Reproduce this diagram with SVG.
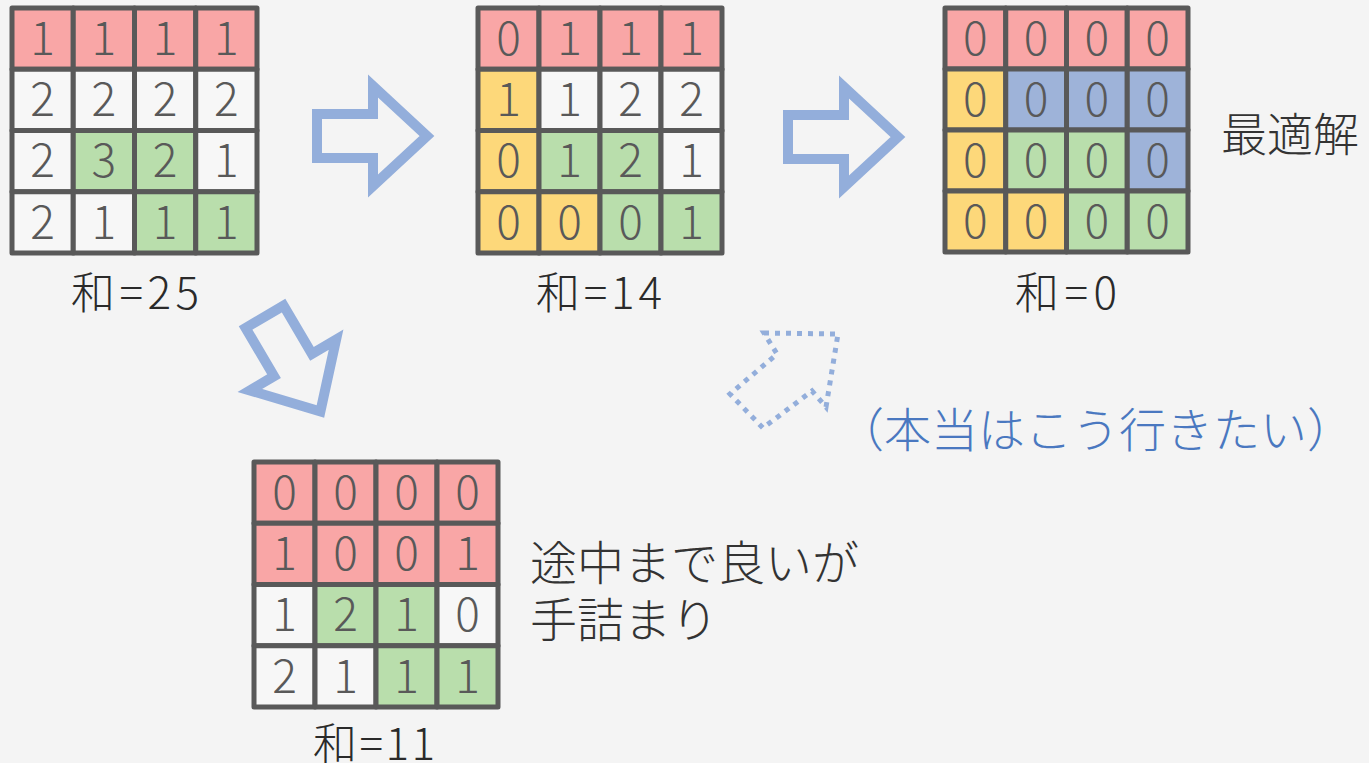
<svg xmlns="http://www.w3.org/2000/svg" width="1369" height="763" viewBox="0 0 1369 763">
<defs>
<style>
.c{stroke:#595959;stroke-width:5;stroke-linejoin:round}
.r{fill:#F9A6A6}.w{fill:#F7F7F7}.g{fill:#B9DEAC}.y{fill:#FDD87A}.b{fill:#9EB3D9}
.d{font-family:"Noto Sans CJK JP","Open Sans",sans-serif;font-weight:300;font-size:46px;fill:#595959;text-anchor:middle}
.lbl{font-family:"Noto Sans CJK JP","Noto Sans",sans-serif;font-weight:300;font-size:44px;fill:#2A2A2A;text-anchor:middle}
.jp{font-family:"Noto Sans CJK JP",sans-serif;font-weight:300;font-size:46px;fill:#333333}
.arr{fill:none;stroke:#93AEDB;stroke-width:10;stroke-linejoin:miter}
.dot{fill:none;stroke:#93AEDB;stroke-width:5;stroke-dasharray:5 6}
</style>
<path id="ar" d="M-56,-22 H0 V-50 L54,0 L0,50 V22 H-56 Z"/>
</defs>
<rect width="1369" height="763" fill="#F4F4F4"/>

<g id="grid1">
<rect class="c r" x="12" y="8" width="61.25" height="61.25"/><rect class="c r" x="73.25" y="8" width="61.25" height="61.25"/><rect class="c r" x="134.5" y="8" width="61.25" height="61.25"/><rect class="c r" x="195.75" y="8" width="61.25" height="61.25"/>
<rect class="c w" x="12" y="69.25" width="61.25" height="61.25"/><rect class="c w" x="73.25" y="69.25" width="61.25" height="61.25"/><rect class="c w" x="134.5" y="69.25" width="61.25" height="61.25"/><rect class="c w" x="195.75" y="69.25" width="61.25" height="61.25"/>
<rect class="c w" x="12" y="130.5" width="61.25" height="61.25"/><rect class="c g" x="73.25" y="130.5" width="61.25" height="61.25"/><rect class="c g" x="134.5" y="130.5" width="61.25" height="61.25"/><rect class="c w" x="195.75" y="130.5" width="61.25" height="61.25"/>
<rect class="c w" x="12" y="191.75" width="61.25" height="61.25"/><rect class="c w" x="73.25" y="191.75" width="61.25" height="61.25"/><rect class="c g" x="134.5" y="191.75" width="61.25" height="61.25"/><rect class="c g" x="195.75" y="191.75" width="61.25" height="61.25"/>
<text class="d" x="42.6" y="55">1</text><text class="d" x="103.9" y="55">1</text><text class="d" x="165.1" y="55">1</text><text class="d" x="226.4" y="55">1</text>
<text class="d" x="42.6" y="116">2</text><text class="d" x="103.9" y="116">2</text><text class="d" x="165.1" y="116">2</text><text class="d" x="226.4" y="116">2</text>
<text class="d" x="42.6" y="177">2</text><text class="d" x="103.9" y="177">3</text><text class="d" x="165.1" y="177">2</text><text class="d" x="226.4" y="177">1</text>
<text class="d" x="42.6" y="239">2</text><text class="d" x="103.9" y="239">1</text><text class="d" x="165.1" y="239">1</text><text class="d" x="226.4" y="239">1</text>
<text class="lbl" x="135" y="309" textLength="128" lengthAdjust="spacing">和=25</text>
</g>

<g id="grid2">
<rect class="c r" x="478" y="8" width="61" height="61.25"/><rect class="c r" x="539" y="8" width="61" height="61.25"/><rect class="c r" x="600" y="8" width="61" height="61.25"/><rect class="c r" x="661" y="8" width="61" height="61.25"/>
<rect class="c y" x="478" y="69.25" width="61" height="61.25"/><rect class="c w" x="539" y="69.25" width="61" height="61.25"/><rect class="c w" x="600" y="69.25" width="61" height="61.25"/><rect class="c w" x="661" y="69.25" width="61" height="61.25"/>
<rect class="c y" x="478" y="130.5" width="61" height="61.25"/><rect class="c g" x="539" y="130.5" width="61" height="61.25"/><rect class="c g" x="600" y="130.5" width="61" height="61.25"/><rect class="c w" x="661" y="130.5" width="61" height="61.25"/>
<rect class="c y" x="478" y="191.75" width="61" height="61.25"/><rect class="c y" x="539" y="191.75" width="61" height="61.25"/><rect class="c g" x="600" y="191.75" width="61" height="61.25"/><rect class="c g" x="661" y="191.75" width="61" height="61.25"/>
<text class="d" x="508.5" y="55">0</text><text class="d" x="569.5" y="55">1</text><text class="d" x="630.5" y="55">1</text><text class="d" x="691.5" y="55">1</text>
<text class="d" x="508.5" y="116">1</text><text class="d" x="569.5" y="116">1</text><text class="d" x="630.5" y="116">2</text><text class="d" x="691.5" y="116">2</text>
<text class="d" x="508.5" y="177">0</text><text class="d" x="569.5" y="177">1</text><text class="d" x="630.5" y="177">2</text><text class="d" x="691.5" y="177">1</text>
<text class="d" x="508.5" y="239">0</text><text class="d" x="569.5" y="239">0</text><text class="d" x="630.5" y="239">0</text><text class="d" x="691.5" y="239">1</text>
<text class="lbl" x="599" y="309" textLength="126" lengthAdjust="spacing">和=14</text>
</g>

<g id="grid3">
<rect class="c r" x="945" y="8" width="60.75" height="61"/><rect class="c r" x="1005.75" y="8" width="60.75" height="61"/><rect class="c r" x="1066.5" y="8" width="60.75" height="61"/><rect class="c r" x="1127.25" y="8" width="60.75" height="61"/>
<rect class="c y" x="945" y="69" width="60.75" height="61"/><rect class="c b" x="1005.75" y="69" width="60.75" height="61"/><rect class="c b" x="1066.5" y="69" width="60.75" height="61"/><rect class="c b" x="1127.25" y="69" width="60.75" height="61"/>
<rect class="c y" x="945" y="130" width="60.75" height="61"/><rect class="c g" x="1005.75" y="130" width="60.75" height="61"/><rect class="c g" x="1066.5" y="130" width="60.75" height="61"/><rect class="c b" x="1127.25" y="130" width="60.75" height="61"/>
<rect class="c y" x="945" y="191" width="60.75" height="61"/><rect class="c y" x="1005.75" y="191" width="60.75" height="61"/><rect class="c g" x="1066.5" y="191" width="60.75" height="61"/><rect class="c g" x="1127.25" y="191" width="60.75" height="61"/>
<text class="d" x="975.4" y="55">0</text><text class="d" x="1036.1" y="55">0</text><text class="d" x="1096.9" y="55">0</text><text class="d" x="1157.6" y="55">0</text>
<text class="d" x="975.4" y="116">0</text><text class="d" x="1036.1" y="116">0</text><text class="d" x="1096.9" y="116">0</text><text class="d" x="1157.6" y="116">0</text>
<text class="d" x="975.4" y="177">0</text><text class="d" x="1036.1" y="177">0</text><text class="d" x="1096.9" y="177">0</text><text class="d" x="1157.6" y="177">0</text>
<text class="d" x="975.4" y="238">0</text><text class="d" x="1036.1" y="238">0</text><text class="d" x="1096.9" y="238">0</text><text class="d" x="1157.6" y="238">0</text>
<text class="lbl" x="1066" y="309" textLength="102" lengthAdjust="spacing">和=0</text>
<text class="jp" x="1221" y="151">最適解</text>
</g>

<g id="grid4">
<rect class="c r" x="254" y="462" width="61" height="61.25"/><rect class="c r" x="315" y="462" width="61" height="61.25"/><rect class="c r" x="376" y="462" width="61" height="61.25"/><rect class="c r" x="437" y="462" width="61" height="61.25"/>
<rect class="c r" x="254" y="523.25" width="61" height="61.25"/><rect class="c r" x="315" y="523.25" width="61" height="61.25"/><rect class="c r" x="376" y="523.25" width="61" height="61.25"/><rect class="c r" x="437" y="523.25" width="61" height="61.25"/>
<rect class="c w" x="254" y="584.5" width="61" height="61.25"/><rect class="c g" x="315" y="584.5" width="61" height="61.25"/><rect class="c g" x="376" y="584.5" width="61" height="61.25"/><rect class="c w" x="437" y="584.5" width="61" height="61.25"/>
<rect class="c w" x="254" y="645.75" width="61" height="61.25"/><rect class="c w" x="315" y="645.75" width="61" height="61.25"/><rect class="c g" x="376" y="645.75" width="61" height="61.25"/><rect class="c g" x="437" y="645.75" width="61" height="61.25"/>
<text class="d" x="284.5" y="509">0</text><text class="d" x="345.5" y="509">0</text><text class="d" x="406.5" y="509">0</text><text class="d" x="467.5" y="509">0</text>
<text class="d" x="284.5" y="570">1</text><text class="d" x="345.5" y="570">0</text><text class="d" x="406.5" y="570">0</text><text class="d" x="467.5" y="570">1</text>
<text class="d" x="284.5" y="631">1</text><text class="d" x="345.5" y="631">2</text><text class="d" x="406.5" y="631">1</text><text class="d" x="467.5" y="631">0</text>
<text class="d" x="284.5" y="693">2</text><text class="d" x="345.5" y="693">1</text><text class="d" x="406.5" y="693">1</text><text class="d" x="467.5" y="693">1</text>
<text class="lbl" x="374" y="760" textLength="122" lengthAdjust="spacing">和=11</text>
<text class="jp" x="530" y="580" style="font-size:47px">途中まで良いが</text>
<text class="jp" x="530" y="637" style="font-size:47px">手詰まり</text>
</g>

<g id="connectors">
<use href="#ar" class="arr" transform="translate(373,136)"/>
<use href="#ar" class="arr" transform="translate(844,137)"/>
<use href="#ar" class="arr" transform="translate(293,365) rotate(59.5)"/>
<path class="dot" d="M764,333 L838,334 L826,407 L812,391 L763,428 L730,394 L777,354 Z"/>
<text x="837" y="447" style="font-family:'Noto Sans CJK JP',sans-serif;font-weight:300;font-size:47px;fill:#4A78C0">（本当はこう行きたい）</text>
</g>
</svg>
